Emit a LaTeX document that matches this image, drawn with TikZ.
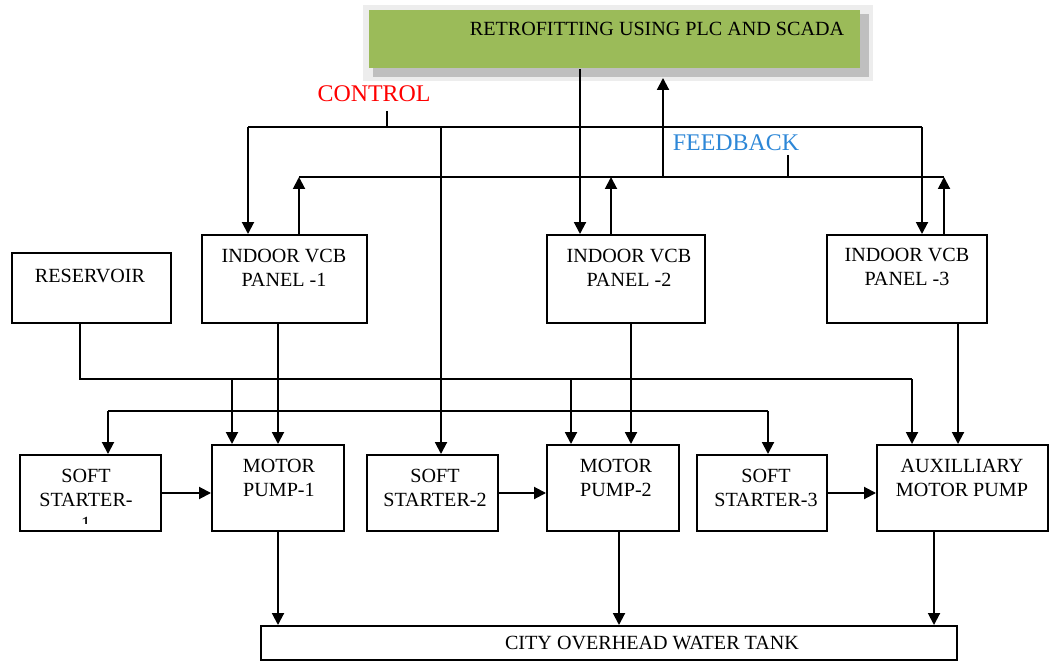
\documentclass[tikz,border=0pt]{standalone}
\usepackage{fontspec}
\setmainfont{Liberation Serif}
\usetikzlibrary{arrows.meta,fit}
\definecolor{plcgreen}{RGB}{155,187,89}
\definecolor{fbblue}{RGB}{45,135,215}

\begin{document}
\begin{tikzpicture}[x=0.025cm, y=-0.025cm, line width=1.4pt,
  box/.style={draw, inner sep=0pt},
  lbl/.style={align=center, font=\fontsize{14.3}{17}\selectfont, inner sep=0pt},
  tag/.style={font=\fontsize{17}{20}\selectfont, inner sep=0pt},
  arr/.style={-{Triangle[width=8.5pt,length=8.5pt]}}]

\useasboundingbox (0,0) rectangle (1052,662);

% draw PLC and SCADA box with its shadow
\fill[black!7] (363,5) rectangle (873,81);
\node[fill=black!25, inner sep=0pt, fit={(373,14) (869,77)}] (plcsh) {};
\node[fill=plcgreen, inner sep=0pt, fit={(369,10) (860,68)}] (plc) {};
\node[lbl] (plct) at (657,29) {RETROFITTING USING PLC AND SCADA};

% draw panels and reservoir
\node[box, fit={(202,235) (367,323)}] (panel1) {};
\node[lbl] (panel1t) at (284,268) {INDOOR VCB\\PANEL -1};
\node[box, fit={(547,235) (705,323)}] (panel2) {};
\node[lbl] (panel2t) at (629,268) {INDOOR VCB\\PANEL -2};
\node[box, fit={(827,235) (987,323)}] (panel3) {};
\node[lbl] (panel3t) at (907,267) {INDOOR VCB\\PANEL -3};
\node[box, fit={(12,253) (171,323)}] (res) {};
\node[lbl] (rest) at (90,276) {RESERVOIR};

% draw starters and pumps
\node[box, fit={(20,455) (161,531)}] (ss1) {};
\begin{scope}
  \clip (20,455) rectangle (161,523);
  \node[lbl] (ss1t) at (86,500) {SOFT\\STARTER-\\1};
\end{scope}
\node[box, fit={(212,445) (344,531)}] (mp1) {};
\node[lbl] (mp1t) at (279,478) {MOTOR\\PUMP-1};
\node[box, fit={(367,455) (498,531)}] (ss2) {};
\node[lbl] (ss2t) at (435,488) {SOFT\\STARTER-2};
\node[box, fit={(547,445) (679,531)}] (mp2) {};
\node[lbl] (mp2t) at (616,478) {MOTOR\\PUMP-2};
\node[box, fit={(697,455) (827,531)}] (ss3) {};
\node[lbl] (ss3t) at (766,488) {SOFT\\STARTER-3};
\node[box, fit={(877,445) (1048,531)}] (aux) {};
\node[lbl] (auxt) at (962,478) {AUXILLIARY\\MOTOR PUMP};
\node[box, fit={(261,626) (957,660)}] (tank) {};
\node[lbl] (tankt) at (652,643) {CITY OVERHEAD WATER TANK};

% bus labels
\node[tag, text=red] (control) at (374,94) {CONTROL};
\node[tag, text=fbblue] (feedback) at (736,143) {FEEDBACK};

% control bus
\draw (387,111) -- (387,127);
\draw (248,127) coordinate (cl) -- (922,127) coordinate (cr);
\draw[arr] (cl) -- (cl |- panel1.north);
\draw[arr] (cr) -- (cr |- panel3.north);
\draw[arr] (441,127) coordinate (cs) -- (cs |- ss2.north);
\coordinate (pd) at (580,0);
\draw[arr] (pd |- plc.south) -- (pd |- panel2.north);

% feedback bus
\draw (299,177) coordinate (fl) -- (944,177) coordinate (fr);
\draw (788,155) -- (788,177);
\draw[arr] (fl |- panel1.north) -- (fl);
\coordinate (fm) at (611,177);
\draw[arr] (fm |- panel2.north) -- (fm);
\draw[arr] (fr |- panel3.north) -- (fr);
\draw[arr] (663,177) coordinate (fu) -- (fu |- plcsh.south);

% reservoir line
\coordinate (rx) at (80,379);
\draw (rx |- res.south) -- (rx) -- (912,379) coordinate (ra);
\draw[arr] (ra) -- (ra |- aux.north);
\draw[arr] (232,379) coordinate (rb) -- (rb |- mp1.north);
\draw[arr] (571,379) coordinate (rc) -- (rc |- mp2.north);

% soft starter line
\draw (108,411) coordinate (sl) -- (768,411) coordinate (sr);
\draw[arr] (sl) -- (sl |- ss1.north);
\draw[arr] (sr) -- (sr |- ss3.north);

% panels to pumps
\coordinate (p1) at (278,0);
\coordinate (p2) at (631,0);
\coordinate (p3) at (958,0);
\draw[arr] (p1 |- panel1.south) -- (p1 |- mp1.north);
\draw[arr] (p2 |- panel2.south) -- (p2 |- mp2.north);
\draw[arr] (p3 |- panel3.south) -- (p3 |- aux.north);

% starters to pumps
\draw[arr] (ss1.east) -- (ss1.east -| mp1.west);
\draw[arr] (ss2.east) -- (ss2.east -| mp2.west);
\draw[arr] (ss3.east) -- (ss3.east -| aux.west);

% pumps to tank
\coordinate (o2) at (619,0);
\coordinate (o3) at (934,0);
\draw[arr] (mp1.south) -- (mp1.south |- tank.north);
\draw[arr] (o2 |- mp2.south) -- (o2 |- tank.north);
\draw[arr] (o3 |- aux.south) -- (o3 |- tank.north);

\end{tikzpicture}
\end{document}
